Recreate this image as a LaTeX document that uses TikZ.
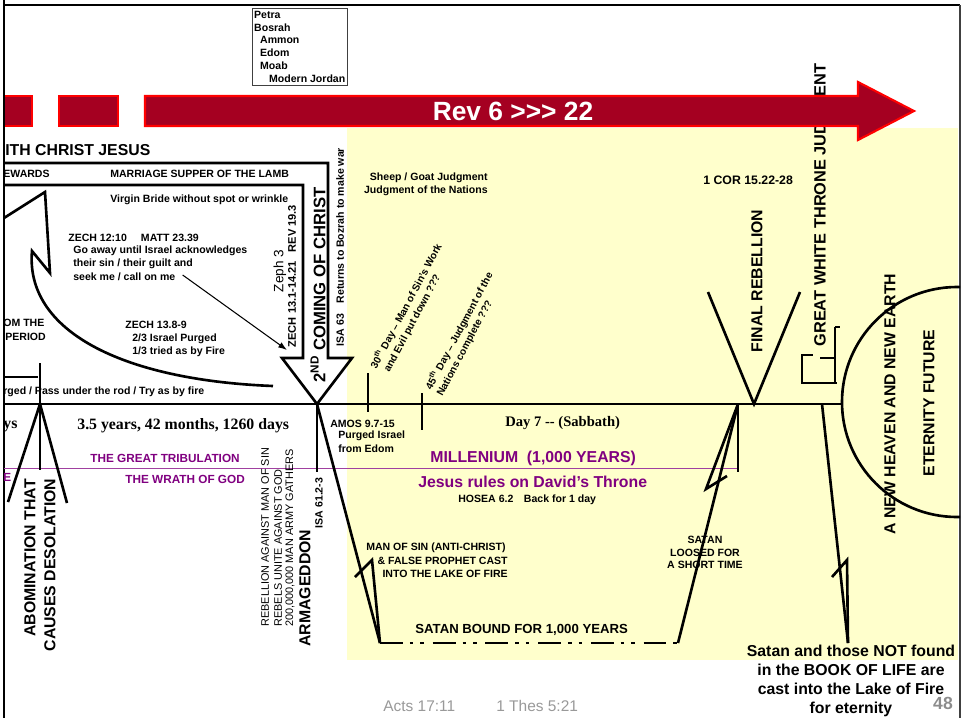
\documentclass[tikz,border=0pt]{standalone}
\usepackage{fontspec}
\setmainfont{Liberation Sans}
\newfontfamily\timesfont{Liberation Serif}
\usetikzlibrary{arrows.meta}
\definecolor{revred}{HTML}{A50021}
\definecolor{revedge}{HTML}{FF0000}
\definecolor{paleyellow}{HTML}{FFFFCC}
\definecolor{millpurple}{HTML}{800080}
\definecolor{notegray}{HTML}{999999}
\newcommand{\fsz}[2]{\fontsize{#1}{#2}\selectfont}

\begin{document}
\begin{tikzpicture}[
        x=0.02cm, y=-0.02cm,
        txt/.style={inner sep=0pt, anchor=west, font=\bfseries\fsz{6}{7.3}},
        bigtxt/.style={inner sep=0pt, font=\bfseries\fsz{9}{10.8}},
        vert/.style={rotate=90},
        heavy/.style={line width=1.5pt, line join=miter},
        revbar/.style={fill=revred, draw=revedge, line width=1.2pt},
        purp/.style={text=millpurple},
    ]
    \useasboundingbox (0,0) rectangle (961,718);

    % background of the millenium
    \fill[paleyellow] (347,128) rectangle (958,660);

    \node[bigtxt, vert, font=\bfseries\fsz{9.3}{11}] (gwtlabel) at (820,205) {GREAT WHITE THRONE JUDGMENT};

    % Rev 6 >>> 22 arrow
    \draw[revbar] (4,96) rectangle (32,126);
    \draw[revbar] (59,96) rectangle (118,126);
    \draw[revbar] (145,96) -- (858,96) -- (858,82) -- (914,111) -- (858,140) -- (858,126) -- (145,126) -- cycle;
    \node[inner sep=0pt, text=white, font=\bfseries\fsz{15}{18}] (revtitle) at (513,111) {Rev 6 {>}\kern0pt{>}\kern0pt{>} 22};

    % frame
    \draw[line width=1.6pt] (4,5) -- (960,5);
    \draw[line width=1.6pt] (4,0) -- (4,718);
    \draw[black!75, line width=0.6pt] (960,5) -- (960,718);

    \node[draw=black!75, line width=0.5pt, anchor=north west, inner xsep=1pt, inner ysep=1.5pt,
        align=left, font=\bfseries\fsz{6}{7.3}] (petra) at (252,8)
        {Petra\\Bosrah\\\hspace*{3.4pt}Ammon\\\hspace*{3.4pt}Edom\\\hspace*{3.4pt}Moab\\\hspace*{8.5pt}Modern Jordan};

    % key points on the time line
    \coordinate (abom) at (40,404);
    \coordinate (tip2nd) at (317,404);
    \coordinate (pitL) at (380,643);
    \coordinate (pitR) at (678,643);
    \coordinate (loose) at (738,404);
    \coordinate (rebel) at (754,404);
    \coordinate (gwt) at (822,404);
    \coordinate (lakeend) at (848,643);
    \coordinate (zechtip) at (287,350);

    \draw[heavy] (4,404) -- (843,404);
    \begin{scope}
        \clip (0,0) rectangle (960,718);
        \draw[heavy] (957,402) circle (115);
    \end{scope}

    % 2nd coming arrow
    \draw[heavy] (4,163) -- (328,163) -- (328,358) -- (352,358) -- (tip2nd) -- (282,358) -- (303,358) -- (303,185) -- (4,185);

    \node[txt, font=\bfseries\fsz{9}{10.8}] (withchrist) at (5,150) {ITH CHRIST JESUS};
    \node[txt] (rewards) at (3,174) {EWARDS};
    \node[txt] (marriage) at (110,174) {MARRIAGE SUPPER OF THE LAMB};
    \node[txt] (virgin) at (110,200) {Virgin Bride without spot or wrinkle};
    \node[txt] (zech1210) at (68,238) {ZECH 12:10\hspace{8pt}MATT 23.39};
    \node[txt] (goaway) at (73,251) {Go away until Israel acknowledges};
    \node[txt] (theirsin) at (73,264) {their sin / their guilt and};
    \node[txt] (seekme) at (73,277) {seek me / call on me};
    \draw[-{Latex[length=5pt,width=3.5pt]}, line width=0.6pt] (seekme.east) ++(7,-2) -- (zechtip);
    \node[txt] (zech138) at (125,325) {ZECH 13.8-9};
    \node[txt] (purged23) at (132,339) {2/3 Israel Purged};
    \node[txt] (tried13) at (132,352) {1/3 tried as by Fire};
    \node[txt] (fromthe) at (3,323) {OM THE};
    \node[txt] (period) at (5,337) {PERIOD};
    \node[txt] (passrod) at (3,392) {rged / Pass under the rod / Try as by fire};

    % curved arrow back to Israel
    \draw[heavy] (273,386) .. controls (120,380) and (25,330) .. (32,251) -- (50,273) -- (45,192) -- (4,218);
    \draw[line width=0.8pt] (4,377) -- (38,377);

    \node[bigtxt, vert, font=\bfseries\fsz{9.5}{11}] (coming) at (318,285) {2\textsuperscript{ND} COMING OF CHRIST};
    \node[txt, vert, anchor=center, font=\bfseries\fsz{6.3}{7.5}] (zech131) at (292,276) {ZECH 13.1-14.21\hspace{5pt}REV 19.3};
    \node[vert, inner sep=0pt, font=\fsz{7.7}{9}] (zeph) at (280,271) {Zeph 3};
    \node[txt, vert, anchor=center] (isa63) at (340,247) {ISA 63\hspace{6pt}Returns to Bozrah to make war};

    \node[txt, anchor=east] (sheep) at (488,178) {Sheep / Goat Judgment};
    \node[txt, anchor=east] (nations) at (488,191) {Judgment of the Nations};
    \node[txt, font=\bfseries\fsz{7}{8.4}] (cor1522) at (703,180) {1 COR 15.22-28};

    % 30th and 45th day
    \draw[line width=1.2pt] (368,373) -- (368,412);
    \draw[line width=1.2pt] (422,393) -- (422,430);
    \node[txt, rotate=62, font=\bfseries\fsz{5.8}{7}] (day30a) at (373,368) {30\textsuperscript{th} Day -- Man of Sin’s Work};
    \node[txt, rotate=62, font=\bfseries\fsz{5.8}{7}] (day30b) at (387,372) {and Evil put down ???};
    \node[txt, rotate=62, font=\bfseries\fsz{5.8}{7}] (day45a) at (428,389) {45\textsuperscript{th} Day -- Judgment of the};
    \node[txt, rotate=62, font=\bfseries\fsz{5.8}{7}] (day45b) at (440,396) {Nations complete ???};

    % final rebellion and great white throne
    \draw[heavy] (708,292) -- (rebel) -- (800,292);
    \node[bigtxt, vert] (finalreb) at (757,281) {FINAL REBELLION};
    \draw[line width=1.2pt] (801,355) -- (813,355);
    \draw[line width=1.2pt] (802,355) -- (802,383);
    \draw[line width=1.2pt] (801,383) -- (837,383);
    \draw[line width=1.2pt] (820,358) -- (835,358);
    \draw[line width=1.2pt] (835,327) -- (835,383);
    \draw[line width=1.2pt] (835,327) -- (840,327);
    \node[bigtxt, vert] (newheaven) at (890,404) {A NEW HEAVEN AND NEW EARTH};
    \node[bigtxt, vert] (eternity) at (929,403) {ETERNITY FUTURE};

    % under the time line
    \node[txt, font=\timesfont\bfseries\fsz{9}{10.8}] (ys) at (3,426) {ys};
    \node[txt, font=\timesfont\bfseries\fsz{9}{10.8}] (years35) at (77,426) {3.5 years, 42 months, 1260 days};
    \node[txt] (amos) at (330,424) {AMOS 9.7-15};
    \node[txt] (purgedisr) at (338,436) {Purged Israel};
    \node[txt] (edom) at (338,449) {from Edom};
    \node[txt, font=\timesfont\bfseries\fsz{8.3}{10}] (day7) at (505,423) {Day 7 -- (Sabbath)};

    \draw[millpurple!75, line width=0.5pt] (4,468) -- (loose |- 0,468);
    \node[txt, purp, font=\bfseries\fsz{6.7}{8}] (tribulation) at (90,458) {THE GREAT TRIBULATION};
    \node[txt, purp, font=\bfseries\fsz{9}{10.8}] (millenium) at (430,458) {MILLENIUM\ \ (1,000 YEARS)};
    \node[txt, purp, font=\bfseries\fsz{6.7}{8}] (wrathcut) at (3,477) {E};
    \node[txt, purp, font=\bfseries\fsz{6.7}{8}] (wrath) at (125,479) {THE WRATH OF GOD};
    \node[txt, purp, font=\bfseries\fsz{9}{10.8}] (davidthrone) at (418,482) {Jesus rules on David’s Throne};
    \node[txt] (hosea) at (458,500) {HOSEA 6.2\hspace{6pt}Back for 1 day};

    % abomination
    \draw[heavy] (40,363) -- (40,470);
    \draw[heavy] (8,502) -- (abom) -- (67,503);
    \node[bigtxt, vert] (abomtxt) at (30,558) {ABOMINATION THAT};
    \node[bigtxt, vert] (desolation) at (50,565) {CAUSES DESOLATION};

    % armageddon
    \node[vert, inner sep=0pt, anchor=west, font=\fsz{6.2}{7.4}] (rebellion) at (265,627) {REBELLION AGAINST MAN OF SIN};
    \node[vert, inner sep=0pt, anchor=west, font=\fsz{6.2}{7.4}] (unite) at (278,627) {REBELS UNITE AGAINST GOD};
    \node[vert, inner sep=0pt, anchor=west, font=\fsz{6.2}{7.4}] (army) at (290,627) {200,000,000 MAN ARMY GATHERS};
    \node[bigtxt, vert] (armageddon) at (305,588) {ARMAGEDDON};
    \node[txt, vert, anchor=center] (isa612) at (319,503) {ISA 61.2-3};

    % the pit
    \draw[heavy] (tip2nd) -- (317,472);
    \draw[heavy] (tip2nd) -- (pitL);
    \draw[heavy] (355,577) -- (372,560) -- (pitL);
    \draw[line width=1.3pt, dash pattern=on 13pt off 4pt on 2pt off 4pt on 2pt off 5pt] (pitL) -- (pitR);
    \draw[heavy] (pitR) -- (loose);
    \draw[heavy] (loose) -- (706,489) -- (727,476);
    \draw[heavy] (loose) -- (738,472);
    \draw[heavy] (gwt) -- (lakeend);
    \draw[heavy] (832,577) -- (847,560) -- (lakeend);

    \node[txt, anchor=east] (mansin) at (506,548) {MAN OF SIN (ANTI-CHRIST)};
    \node[txt, anchor=east] (falseproph) at (508,561) {\& FALSE PROPHET CAST};
    \node[txt, anchor=east] (intolake) at (508,574) {INTO THE LAKE OF FIRE};
    \node[txt, anchor=center] (satan) at (705,540) {SATAN};
    \node[txt, anchor=center] (loosedfor) at (705,553) {LOOSED FOR};
    \node[txt, anchor=center] (shorttime) at (705,565) {A SHORT TIME};
    \node[txt, font=\bfseries\fsz{7.5}{9}] (satanbound) at (415,630) {SATAN BOUND FOR 1,000 YEARS};

    \node[inner sep=0pt, anchor=north, align=center, font=\bfseries\fsz{9}{10.8}] (lakefire) at (851,645)
        {Satan and those NOT found\\in the BOOK OF LIFE are\\cast into the Lake of Fire\\for eternity};

    \node[txt, text=notegray, font=\fsz{8.8}{10}] (acts) at (383,706) {Acts 17:11};
    \node[txt, text=notegray, font=\fsz{8.8}{10}] (thes) at (496,706) {1 Thes 5:21};
    \node[inner sep=0pt, text=black!45, font=\bfseries\fsz{10}{12}] (pagenum) at (943,703) {48};
\end{tikzpicture}
\end{document}
